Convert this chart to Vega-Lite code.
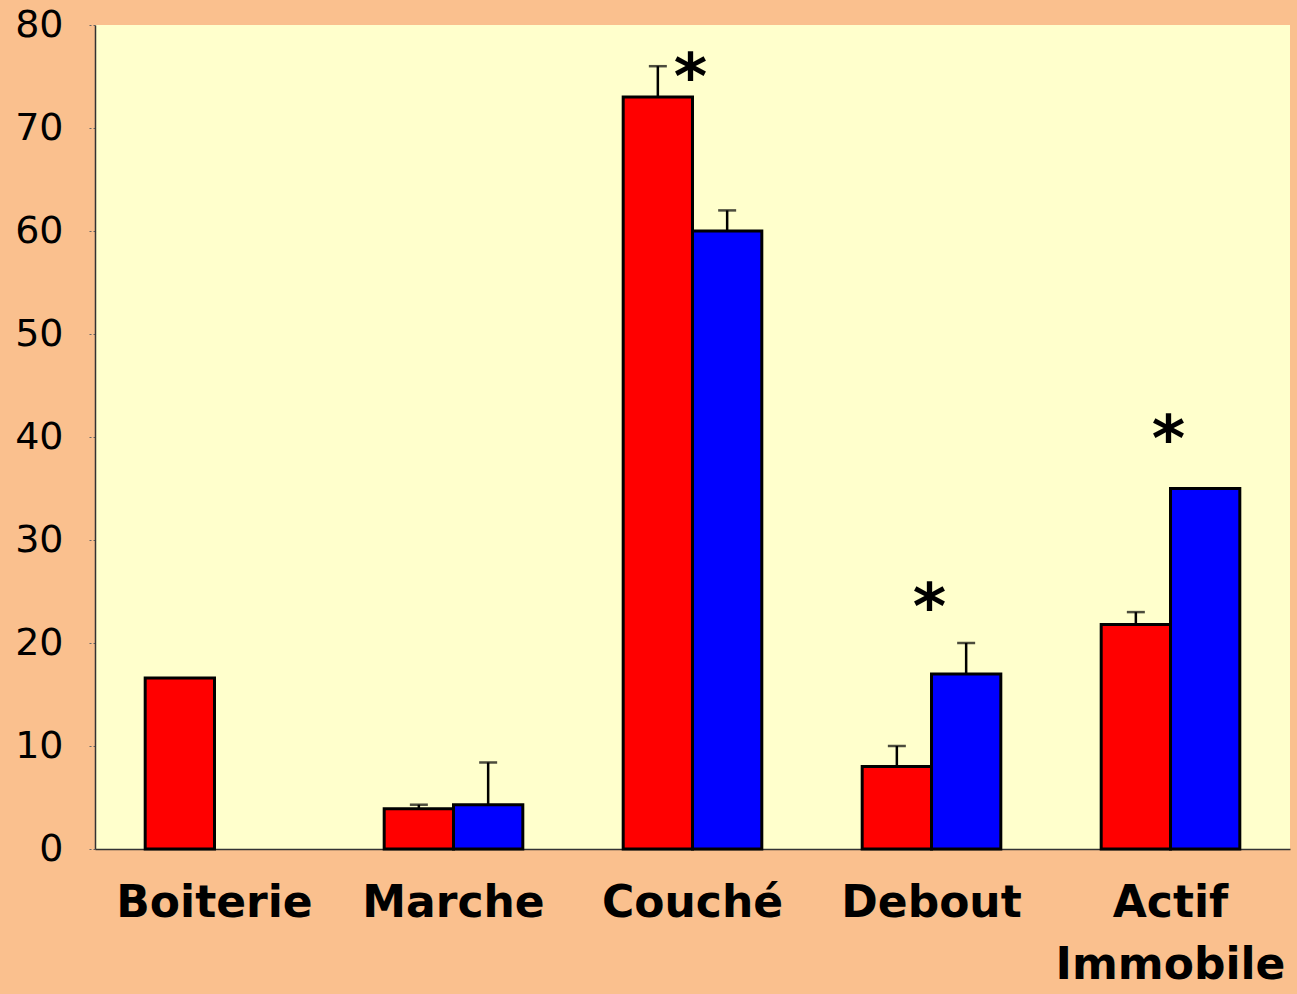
{
  "$schema": "https://vega.github.io/schema/vega-lite/v6.json",
  "width": 1195,
  "height": 824,
  "autosize": {"type": "none"},
  "padding": {"left": 95, "top": 25, "right": 7, "bottom": 145},
  "background": "#FAC08E",
  "config": {"view": {"fill": "#FFFFCC", "stroke": null}},
  "datasets": {
    "bars": [
      {"cat": "Boiterie", "grp": "A", "value": 16.6, "err": null},
      {"cat": "Marche", "grp": "A", "value": 3.9, "err": 4.3},
      {"cat": "Marche", "grp": "B", "value": 4.3, "err": 8.4},
      {"cat": "Couché", "grp": "A", "value": 73, "err": 76},
      {"cat": "Couché", "grp": "B", "value": 60, "err": 62},
      {"cat": "Debout", "grp": "A", "value": 8, "err": 10},
      {"cat": "Debout", "grp": "B", "value": 17, "err": 20},
      {"cat": "Actif Immobile", "grp": "A", "value": 21.8, "err": 23},
      {"cat": "Actif Immobile", "grp": "B", "value": 35, "err": null}
    ],
    "stars": [
      {"cat": "Couché", "pos": 75.8, "label": "*"},
      {"cat": "Debout", "pos": 24.4, "label": "*"},
      {"cat": "Actif Immobile", "pos": 40.7, "label": "*"}
    ]
  },
  "layer": [
    {
      "data": {"name": "bars"},
      "mark": {"type": "bar", "stroke": "black", "strokeWidth": 3},
      "encoding": {
        "x": {
          "field": "cat", "type": "nominal",
          "sort": ["Boiterie", "Marche", "Couché", "Debout", "Actif Immobile"],
          "scale": {"paddingInner": 0.42, "paddingOuter": 0.21},
          "axis": {
            "title": null, "labelAngle": 0, "labelFontSize": 44,
            "labelFont": "DejaVu Sans", "labelFontWeight": "bold",
            "labelColor": "black", "labelPadding": 32, "ticks": false,
            "labelLimit": 0, "labelOverlap": false,
            "domainColor": "#333333", "domainWidth": 1.5,
            "labelBaseline": "top", "labelLineHeight": 62,
            "labelExpr": "datum.label == 'Actif Immobile' ? ['Actif', 'Immobile'] : datum.label"
          }
        },
        "xOffset": {"field": "grp", "type": "nominal", "scale": {"domain": ["A", "B"], "paddingInner": 0, "paddingOuter": 0}},
        "y": {
          "field": "value", "type": "quantitative",
          "scale": {"domain": [0, 80], "nice": false},
          "axis": {
            "title": null, "values": [0, 10, 20, 30, 40, 50, 60, 70, 80],
            "labelFontSize": 38, "labelFont": "DejaVu Sans", "labelColor": "black",
            "tickColor": "#666666", "tickSize": 8, "tickDash": [2, 2],
            "domainColor": "#333333", "domainWidth": 1.5, "grid": false, "labelPadding": 24
          }
        },
        "color": {"field": "grp", "type": "nominal", "scale": {"domain": ["A", "B"], "range": ["#FF0000", "#0000FF"]}, "legend": null}
      }
    },
    {
      "data": {"name": "bars"},
      "transform": [{"filter": "isValid(datum.err)"}],
      "mark": {"type": "rule", "color": "black", "strokeWidth": 2.5},
      "encoding": {
        "x": {"field": "cat", "type": "nominal", "sort": ["Boiterie", "Marche", "Couché", "Debout", "Actif Immobile"]},
        "xOffset": {"field": "grp", "type": "nominal", "scale": {"domain": ["A", "B"]}},
        "y": {"field": "value", "type": "quantitative"},
        "y2": {"field": "err"}
      }
    },
    {
      "data": {"name": "bars"},
      "transform": [{"filter": "isValid(datum.err)"}],
      "mark": {"type": "tick", "color": "black", "thickness": 2.5, "size": 18, "orient": "horizontal"},
      "encoding": {
        "x": {"field": "cat", "type": "nominal", "sort": ["Boiterie", "Marche", "Couché", "Debout", "Actif Immobile"]},
        "xOffset": {"field": "grp", "type": "nominal", "scale": {"domain": ["A", "B"]}},
        "y": {"field": "err", "type": "quantitative"}
      }
    },
    {
      "data": {"name": "stars"},
      "mark": {"type": "text", "fontSize": 64, "fontWeight": "bold", "font": "DejaVu Sans", "color": "black", "baseline": "middle", "dy": 12, "dx": -2},
      "encoding": {
        "x": {"field": "cat", "type": "nominal", "sort": ["Boiterie", "Marche", "Couché", "Debout", "Actif Immobile"]},
        "y": {"field": "pos", "type": "quantitative"},
        "text": {"field": "label"}
      }
    }
  ]
}
